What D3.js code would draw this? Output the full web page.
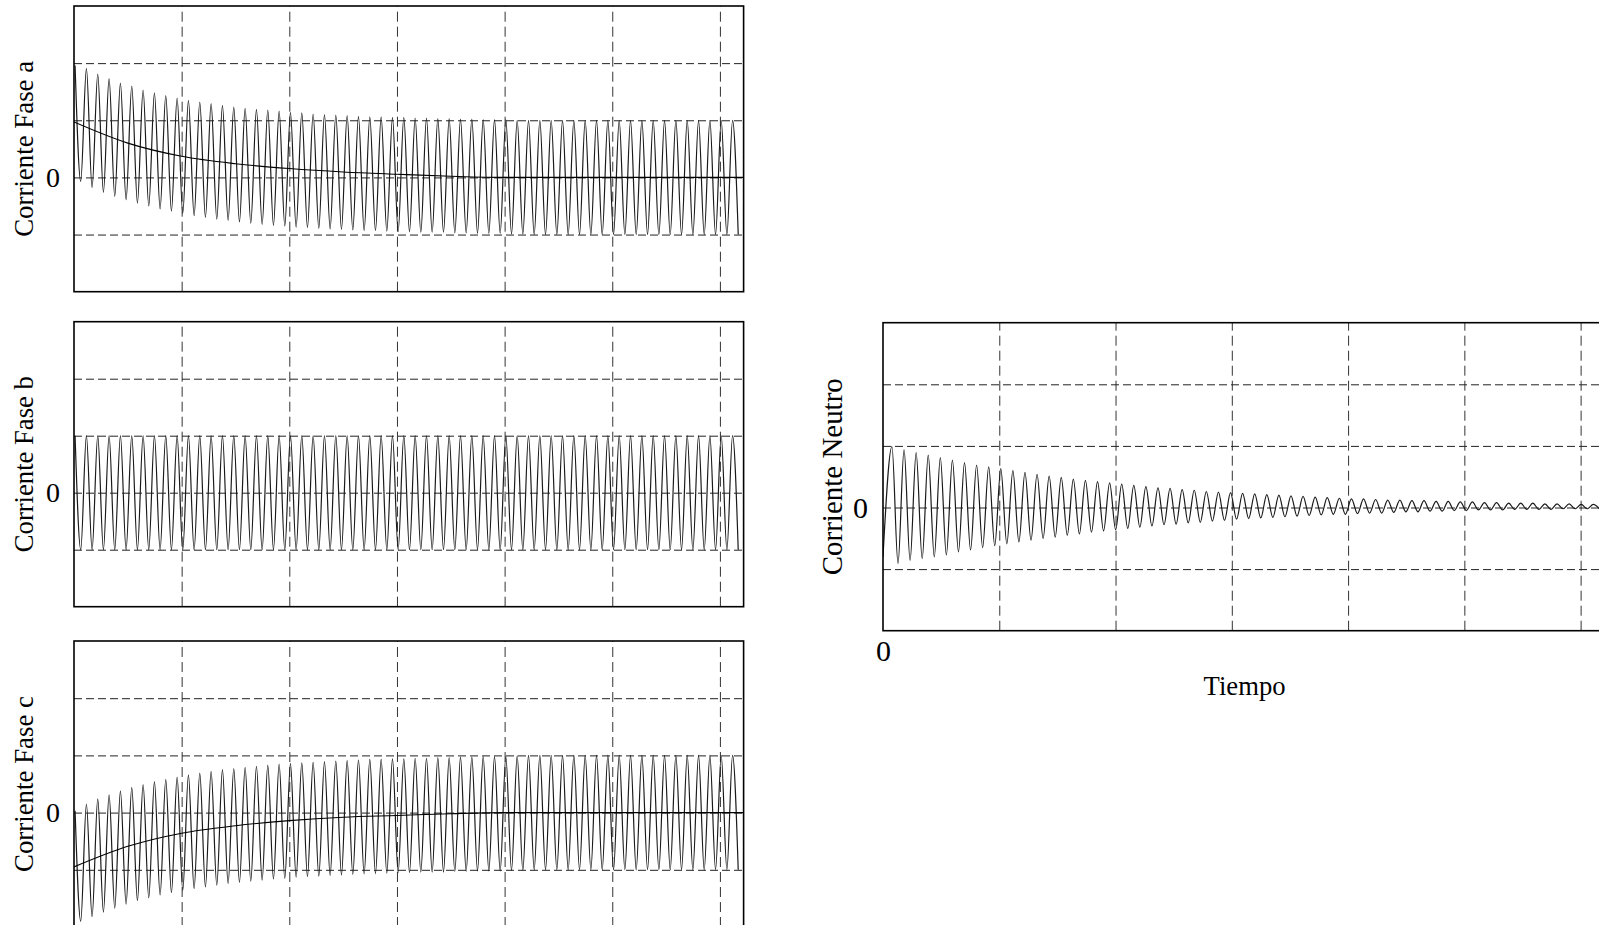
<!DOCTYPE html>
<meta charset="utf-8">
<script src="https://d3js.org/d3.v7.min.js"></script>
<style>
body { margin: 0; background: #fff; }
svg { display: block; }
.grid line { stroke: #222; stroke-width: 1; }
.grid .domain { display: none; }
.lbl .domain { display: none; }
.frame { fill: none; stroke: #000; stroke-width: 1.6; }
.wave { fill: none; stroke: #1a1a1a; stroke-width: 1.2; }
.dc { fill: none; stroke: #000; stroke-width: 1.1; }
text { font-family: "Liberation Serif", "Times New Roman", serif; fill: #000; }
</style>
<div id="chart"></div>
<script>
// grid positions and tick labels (grid units)
var xGrid = [1, 2, 3, 4, 5, 6];
var yGrid = [-1, 0, 1, 2];
var xTicks = [0];
var yTicks = [0];

// one peak + one trough per cycle
var aPeaks = [1.96, 1.91, 1.81, 1.73, 1.65, 1.60, 1.53, 1.48, 1.43, 1.39,
  1.35, 1.32, 1.29, 1.26, 1.23, 1.21, 1.19, 1.18, 1.16, 1.14,
  1.13, 1.11, 1.10, 1.09, 1.08, 1.07, 1.06, 1.06, 1.05, 1.05,
  1.04, 1.04, 1.03, 1.03, 1.02, 1.02, 1.01, 1.01, 1.01, 1.00,
  1.00, 1.00, 1.00, 1.00, 1.00, 1.00, 1.00, 1.00, 1.00, 1.00,
  1.00, 1.00, 1.00, 1.00, 1.00, 1.00, 1.00, 1.00, 1.00];
var aTroughs = [-0.07, -0.18, -0.26, -0.33, -0.39, -0.45, -0.50, -0.55, -0.59, -0.63,
  -0.67, -0.70, -0.73, -0.75, -0.78, -0.80, -0.82, -0.84, -0.85, -0.87,
  -0.88, -0.89, -0.90, -0.91, -0.92, -0.93, -0.93, -0.94, -0.95, -0.95,
  -0.96, -0.96, -0.96, -0.97, -0.97, -0.98, -0.98, -0.98, -0.99, -0.99,
  -1.00, -1.00, -1.00, -1.00, -1.00, -1.00, -1.00, -1.00, -1.00, -1.00,
  -1.00, -1.00, -1.00, -1.00, -1.00, -1.00, -1.00, -1.00, -1.00];

var bPeaks = [1.00, 1.00, 1.00, 1.00, 1.00, 1.00, 1.00, 1.00, 1.00, 1.00,
  1.00, 1.00, 1.00, 1.00, 1.00, 1.00, 1.00, 1.00, 1.00, 1.00,
  1.00, 1.00, 1.00, 1.00, 1.00, 1.00, 1.00, 1.00, 1.00, 1.00,
  1.00, 1.00, 1.00, 1.00, 1.00, 1.00, 1.00, 1.00, 1.00, 1.00,
  1.00, 1.00, 1.00, 1.00, 1.00, 1.00, 1.00, 1.00, 1.00, 1.00,
  1.00, 1.00, 1.00, 1.00, 1.00, 1.00, 1.00, 1.00, 1.00];
var bTroughs = [-1.00, -1.00, -1.00, -1.00, -1.00, -1.00, -1.00, -1.00, -1.00, -1.00,
  -1.00, -1.00, -1.00, -1.00, -1.00, -1.00, -1.00, -1.00, -1.00, -1.00,
  -1.00, -1.00, -1.00, -1.00, -1.00, -1.00, -1.00, -1.00, -1.00, -1.00,
  -1.00, -1.00, -1.00, -1.00, -1.00, -1.00, -1.00, -1.00, -1.00, -1.00,
  -1.00, -1.00, -1.00, -1.00, -1.00, -1.00, -1.00, -1.00, -1.00, -1.00,
  -1.00, -1.00, -1.00, -1.00, -1.00, -1.00, -1.00, -1.00, -1.00];

var cPeaks = [0.03, 0.15, 0.24, 0.31, 0.38, 0.44, 0.49, 0.54, 0.58, 0.62,
  0.66, 0.69, 0.72, 0.75, 0.77, 0.79, 0.81, 0.83, 0.85, 0.86,
  0.87, 0.88, 0.89, 0.90, 0.91, 0.92, 0.93, 0.93, 0.94, 0.94,
  0.95, 0.95, 0.96, 0.96, 0.97, 0.97, 0.98, 0.98, 0.98, 0.99,
  1.00, 1.00, 1.00, 1.00, 1.00, 1.00, 1.00, 1.00, 1.00, 1.00,
  1.00, 1.00, 1.00, 1.00, 1.00, 1.00, 1.00, 1.00, 1.00];
var cTroughs = [-1.90, -1.82, -1.74, -1.67, -1.60, -1.54, -1.49, -1.44, -1.40, -1.36,
  -1.33, -1.30, -1.27, -1.24, -1.22, -1.20, -1.18, -1.16, -1.15, -1.13,
  -1.12, -1.11, -1.10, -1.09, -1.08, -1.07, -1.07, -1.06, -1.05, -1.05,
  -1.04, -1.04, -1.04, -1.03, -1.03, -1.02, -1.02, -1.02, -1.01, -1.01,
  -1.00, -1.00, -1.00, -1.00, -1.00, -1.00, -1.00, -1.00, -1.00, -1.00,
  -1.00, -1.00, -1.00, -1.00, -1.00, -1.00, -1.00, -1.00, -1.00];

var nPeaks = [0.99, 0.94, 0.89, 0.85, 0.81, 0.77, 0.73, 0.69, 0.66, 0.63,
  0.60, 0.57, 0.54, 0.51, 0.49, 0.46, 0.44, 0.42, 0.40, 0.38,
  0.36, 0.34, 0.32, 0.31, 0.29, 0.28, 0.26, 0.25, 0.24, 0.23,
  0.22, 0.21, 0.20, 0.19, 0.18, 0.17, 0.16, 0.15, 0.14, 0.14,
  0.13, 0.12, 0.12, 0.11, 0.11, 0.10, 0.10, 0.09, 0.09, 0.08,
  0.08, 0.07, 0.07, 0.07, 0.06, 0.06, 0.06, 0.05, 0.05];
var nTroughs = [-0.91, -0.86, -0.83, -0.80, -0.77, -0.72, -0.69, -0.65, -0.62, -0.59,
  -0.56, -0.53, -0.50, -0.48, -0.45, -0.43, -0.40, -0.38, -0.36, -0.34,
  -0.32, -0.30, -0.28, -0.27, -0.25, -0.24, -0.22, -0.21, -0.19, -0.18,
  -0.17, -0.16, -0.15, -0.14, -0.13, -0.12, -0.11, -0.11, -0.10, -0.09,
  -0.09, -0.08, -0.07, -0.07, -0.06, -0.06, -0.05, -0.05, -0.04, -0.04,
  -0.04, -0.03, -0.03, -0.03, -0.03, -0.02, -0.02, -0.02, -0.02];
var nStart = -0.80;

// decaying offset (DC part) of phases a and c
var dcTimes = [0, 0.5, 1, 1.5, 2, 2.5, 3, 3.5, 4, 6.22];
var aDc = [0.97, 0.60, 0.37, 0.24, 0.155, 0.095, 0.055, 0.02, 0, 0];
var cDc = [-0.95, -0.59, -0.36, -0.23, -0.14, -0.08, -0.05, -0.02, 0, 0];

var xMax = 6.22;

var svg = d3.select("#chart").append("svg")
    .attr("width", 1599)
    .attr("height", 925);

var panels = [
  {id: "a", label: "Corriente Fase a", peaks: aPeaks, troughs: aTroughs, dc: aDc,
   x: 74, y: 6, w: 669.6, h: 285.7, period: 0.1053, first: 0.01, fs: 28, len: 176, labX: 32.5, pad: 14},
  {id: "b", label: "Corriente Fase b", peaks: bPeaks, troughs: bTroughs, dc: null,
   x: 74, y: 321.7, w: 669.6, h: 285, period: 0.1053, first: 0.01, fs: 28, len: 176, labX: 32.5, pad: 14},
  {id: "c", label: "Corriente Fase c", peaks: cPeaks, troughs: cTroughs, dc: cDc,
   x: 74, y: 641, w: 669.6, h: 286, period: 0.1053, first: 0.01, fs: 28, len: 176, labX: 32.5, pad: 14},
  {id: "n", label: "Corriente Neutro", peaks: nPeaks, troughs: nTroughs, dc: null, start: nStart,
   x: 883, y: 322.7, w: 723.2, h: 308, period: 0.104, first: 0.077, fs: 30, len: 197, labX: 842, pad: 15, xlab: true}
];

panels.forEach(function(p) {
  var x = d3.scaleLinear().domain([0, xMax]).range([p.x, p.x + p.w]);
  var y = d3.scaleLinear().domain([-2, 3]).range([p.y + p.h, p.y]);
  var g = svg.append("g");

  g.append("clipPath").attr("id", "clip-" + p.id)
    .append("rect").attr("x", p.x).attr("y", p.y).attr("width", p.w).attr("height", p.h);

  // dashed grid
  g.append("g").attr("class", "grid")
    .attr("transform", "translate(0," + (p.y + p.h) + ")")
    .call(d3.axisBottom(x).tickValues(xGrid).tickSize(-p.h).tickFormat(""))
    .selectAll("line").attr("stroke-dasharray", "10,5").style("stroke", "#333");
  g.append("g").attr("class", "grid")
    .attr("transform", "translate(" + p.x + ",0)")
    .call(d3.axisLeft(y).tickValues(yGrid).tickSize(-p.w).tickFormat(""))
    .selectAll("line").attr("stroke-dasharray", "8,4");

  // waveform: peak then trough each cycle
  var pts = [];
  if (p.start !== undefined) pts.push([0, p.start]);
  p.peaks.forEach(function(v, k) {
    var t = p.first + k * p.period;
    pts.push([t, v]);
    pts.push([t + p.period / 2, p.troughs[k]]);
  });
  var line = d3.line()
    .x(function(d) { return x(d[0]); })
    .y(function(d) { return y(d[1]); })
    .curve(d3.curveMonotoneX);

  var plot = g.append("g").attr("clip-path", "url(#clip-" + p.id + ")");
  plot.append("path").attr("class", "wave").attr("d", line(pts));

  if (p.dc) {
    plot.append("path").attr("class", "dc")
      .attr("d", line(dcTimes.map(function(t, i) { return [t, p.dc[i]]; })));
  }

  g.append("rect").attr("class", "frame")
    .attr("x", p.x).attr("y", p.y).attr("width", p.w).attr("height", p.h);

  // "0" tick labels
  var yl = g.append("g").attr("class", "lbl")
    .attr("transform", "translate(" + p.x + ",0)")
    .call(d3.axisLeft(y).tickValues(yTicks).tickSize(0).tickPadding(p.pad).tickFormat(function(d) { return String(d); }));
  yl.attr("font-family", null).attr("font-size", null);
  yl.selectAll("text").style("font-size", p.fs + "px");

  if (p.xlab) {
    var xl = g.append("g").attr("class", "lbl")
      .attr("transform", "translate(0," + (p.y + p.h) + ")")
      .call(d3.axisBottom(x).tickValues(xTicks).tickSize(0).tickPadding(9).tickFormat(function(d) { return String(d); }));
    xl.attr("font-family", null).attr("font-size", null);
    xl.selectAll("text").style("font-size", p.fs + "px");

    g.append("text")
      .attr("x", x(xMax / 2))
      .attr("y", p.y + p.h + 64)
      .attr("text-anchor", "middle")
      .attr("textLength", 82)
      .attr("lengthAdjust", "spacingAndGlyphs")
      .style("font-size", "28px")
      .text("Tiempo");
  }

  // rotated y label
  g.append("text")
    .attr("transform", "translate(" + p.labX + "," + (p.y + p.h / 2) + ") rotate(-90)")
    .attr("text-anchor", "middle")
    .attr("textLength", p.len)
    .attr("lengthAdjust", "spacingAndGlyphs")
    .style("font-size", p.fs + "px")
    .text(p.label);
});
</script>
